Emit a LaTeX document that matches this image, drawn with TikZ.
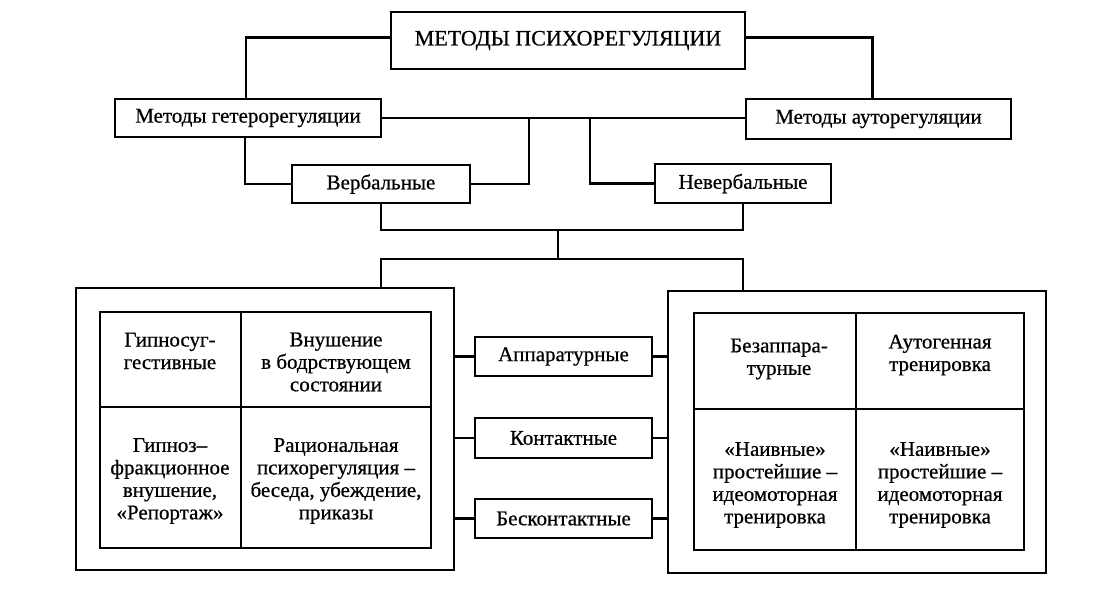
\documentclass[tikz,border=0pt]{standalone}
\usepackage{fontspec}
\setmainfont{Liberation Serif}[FakeBold=0.6]
\newcommand{\myfont}{\fontsize{21}{22.5}\selectfont}
\begin{document}
\begin{tikzpicture}[x=1pt,y=-1pt,
  box/.style={draw=black,line width=2.6pt,inner sep=0pt,fill=white,font=\myfont},
  frame/.style={draw=black,line width=2.6pt,inner sep=0pt},
  cell/.style={draw=black,line width=2.4pt,inner sep=0pt},
  conn/.style={draw=black,line width=2.3pt},
  txt/.style={align=center,inner sep=0pt,font=\myfont}]
\useasboundingbox[fill=white] (0,0) rectangle (1113,597);
% top level
\node[box,minimum width=354pt,minimum height=57pt,font=\fontsize{22}{24}\selectfont] (top) at (568,40.5) {МЕТОДЫ ПСИХОРЕГУЛЯЦИИ};
\node[box,minimum width=266pt,minimum height=38pt] (het) at (248,118) {Методы гетерорегуляции};
\node[box,minimum width=265pt,minimum height=40pt] (aut) at (878.5,119) {Методы ауторегуляции};
\node[box,minimum width=178pt,minimum height=38pt] (verb) at (381,184) {Вербальные};
\node[box,minimum width=176pt,minimum height=39pt] (nverb) at (743,183.5) {Невербальные};
% frames
\node[frame,minimum width=378pt,minimum height=282pt] (lframe) at (265,429) {};
\node[frame,minimum width=378pt,minimum height=282pt] (rframe) at (857,432) {};
% middle boxes
\node[box,minimum width=177pt,minimum height=39pt] (app) at (563.5,356.5) {Аппаратурные};
\node[box,minimum width=177pt,minimum height=40pt] (kont) at (563.5,438) {Контактные};
\node[box,minimum width=177pt,minimum height=39pt] (bkont) at (563.5,518.5) {Бесконтактные};
% left grid cells
\node[cell,minimum width=141pt,minimum height=95pt] (l11) at (170.5,359.5) {};
\node[cell,minimum width=190pt,minimum height=95pt] (l12) at (336,359.5) {};
\node[cell,minimum width=141pt,minimum height=141pt] (l21) at (170.5,477.5) {};
\node[cell,minimum width=190pt,minimum height=141pt] (l22) at (336,477.5) {};
% right grid cells
\node[cell,minimum width=162pt,minimum height=96pt] (r11) at (775,361) {};
\node[cell,minimum width=168pt,minimum height=96pt] (r12) at (940,361) {};
\node[cell,minimum width=162pt,minimum height=141pt] (r21) at (775,479.5) {};
\node[cell,minimum width=168pt,minimum height=141pt] (r22) at (940,479.5) {};
% cell texts
\node[txt] (t11) at (170,351) {Гипносуг-\\гестивные};
\node[txt] (t12) at (336,362) {Внушение\\в бодрствующем\\состоянии};
\node[txt] (t21) at (170,481) {Гипноз–\\фракционное\\внушение,\\«Репортаж»};
\node[txt] (t22) at (336,481) {Рациональная\\психорегуляция –\\беседа, убеждение,\\приказы};
\node[txt] (s11) at (779,359) {Безаппара-\\турные};
\node[txt] (s12) at (940,355) {Аутогенная\\тренировка};
\node[txt] (s21) at (775,485) {«Наивные»\\простейшие –\\идеомоторная\\тренировка};
\node[txt] (s22) at (940,485) {«Наивные»\\простейшие –\\идеомоторная\\тренировка};
% junction coordinates
\coordinate (j1) at (529,118);
\coordinate (j2) at (590,118);
\coordinate (j3) at (558,230);
\coordinate (j4) at (558,259);
% connectors
\draw[conn] ([yshift=3pt]top.west) -| ([xshift=-2pt]het.north);
\draw[conn] ([yshift=3pt]top.east) -| ([xshift=-6pt]aut.north);
\draw[conn] (het.east) -- (het.east -| aut.west);
\draw[conn] (j1) |- (verb.east);
\draw[conn] (j2) |- (nverb.west);
\draw[conn] ([xshift=-3pt]het.south) |- (verb.west);
\draw[conn] (verb.south) |- (j3);
\draw[conn] (nverb.south) |- (j3);
\draw[conn] (j3) -- (j4);
\draw[conn] (lframe.north -| verb.south) |- (j4) -| (rframe.north -| nverb.south);
\draw[conn] (lframe.east |- app.west) -- (app.west);
\draw[conn] (lframe.east |- kont.west) -- (kont.west);
\draw[conn] (lframe.east |- bkont.west) -- (bkont.west);
\draw[conn] (app.east) -- (rframe.west |- app.east);
\draw[conn] (kont.east) -- (rframe.west |- kont.east);
\draw[conn] (bkont.east) -- (rframe.west |- bkont.east);
\end{tikzpicture}
\end{document}
